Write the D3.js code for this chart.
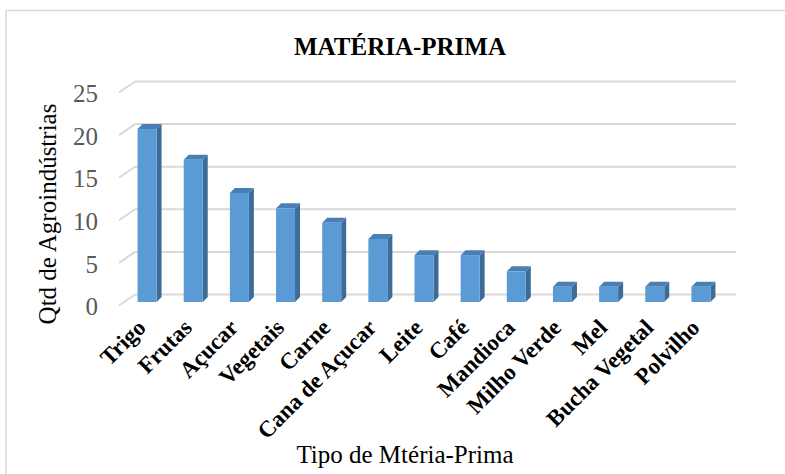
<!DOCTYPE html>
<html>
<head>
<meta charset="utf-8">
<script src="https://cdn.jsdelivr.net/npm/d3@7"></script>
<style>
  body { margin: 0; background: #fff; }
  text { font-family: "Liberation Serif", "Times New Roman", serif; }
</style>
</head>
<body>
<div id="chart"></div>
<script>
var svgWidth = 785;
var svgHeight = 474;

// data
var categories = ["Trigo", "Frutas", "Açucar", "Vegetais", "Carne", "Cana de Açucar",
  "Leite", "Café", "Mandioca", "Milho Verde", "Mel", "Bucha Vegetal", "Polvilho"];
var values = [20.3, 16.7, 12.8, 11.0, 9.3, 7.4, 5.5, 5.5, 3.6, 1.8, 1.8, 1.8, 1.8];
var yTicks = [0, 5, 10, 15, 20, 25];

var svg = d3.select("#chart")
  .append("svg")
  .attr("width", svgWidth)
  .attr("height", svgHeight);

// outer border
svg.append("path")
  .attr("d", "M6,474 L6,10.5 L785,10.5")
  .attr("fill", "none")
  .attr("stroke", "#d9d9d9")
  .attr("stroke-width", 1.5);

// back wall scale
var yScale = d3.scaleLinear().domain([0, 25]).range([294.5, 81.5]);
var xScale = d3.scaleBand().domain(categories).range([127, 727]);

var depthX = 16, depthY = 11;   // floor depth (front -> back)
var barDX = 5, barDY = 5;       // bar depth
var barW = 19;

// gridlines on back wall + slanted side lines
var grid = svg.append("g");
yTicks.forEach(function(t) {
  var y = yScale(t);
  grid.append("line")
    .attr("x1", 135).attr("x2", 736)
    .attr("y1", y).attr("y2", y)
    .attr("stroke", "#d9d9d9").attr("stroke-width", 2);
  grid.append("line")
    .attr("x1", 135 - depthX).attr("y1", y + depthY)
    .attr("x2", 135).attr("y2", y)
    .attr("stroke", "#d9d9d9").attr("stroke-width", 2);
  grid.append("text")
    .attr("x", 98)
    .attr("y", y + depthY + 1)
    .attr("dy", "0.35em")
    .attr("text-anchor", "end")
    .attr("font-size", "25px")
    .attr("fill", "#595959")
    .text(t);
});

// 3D bars
var bars = svg.append("g");
categories.forEach(function(c, i) {
  var x0 = xScale(c) + (xScale.step() - barW) / 2 - 3;
  var yBase = yScale(0) + 7.5;
  var yTop = yBase - (yScale(0) - yScale(values[i]));
  var x1 = x0 + barW;
  // side face
  bars.append("path")
    .attr("d", `M${x1},${yBase} L${x1},${yTop} L${x1 + barDX},${yTop - barDY} L${x1 + barDX},${yBase - barDY} Z`)
    .attr("fill", "#3e6c98");
  // top face
  bars.append("path")
    .attr("d", `M${x0},${yTop} L${x1},${yTop} L${x1 + barDX},${yTop - barDY} L${x0 + barDX},${yTop - barDY} Z`)
    .attr("fill", "#4a7fb3");
  // front face
  bars.append("rect")
    .attr("x", x0).attr("y", yTop)
    .attr("width", barW).attr("height", yBase - yTop)
    .attr("fill", "#5b9bd5");
});

// category labels
svg.append("g").selectAll("text")
  .data(categories)
  .enter()
  .append("text")
  .attr("transform", function(d) {
    var cx = xScale(d) + (xScale.step() - barW) / 2 - 3 + barW / 2;
    return `translate(${cx}, 329) rotate(-45)`;
  })
  .attr("text-anchor", "end")
  .attr("font-size", "23px")
  .attr("font-weight", "bold")
  .attr("fill", "#000")
  .text(d => d);

// title
svg.append("text")
  .attr("x", 400)
  .attr("y", 55)
  .attr("text-anchor", "middle")
  .attr("font-size", "25px")
  .attr("font-weight", "bold")
  .text("MATÉRIA-PRIMA");

// axis titles
svg.append("text")
  .attr("x", 405)
  .attr("y", 463)
  .attr("text-anchor", "middle")
  .attr("font-size", "25px")
  .text("Tipo de Mtéria-Prima");

svg.append("text")
  .attr("transform", "translate(56, 214) rotate(-90)")
  .attr("text-anchor", "middle")
  .attr("font-size", "25px")
  .text("Qtd de Agroindústrias");
</script>
</body>
</html>
